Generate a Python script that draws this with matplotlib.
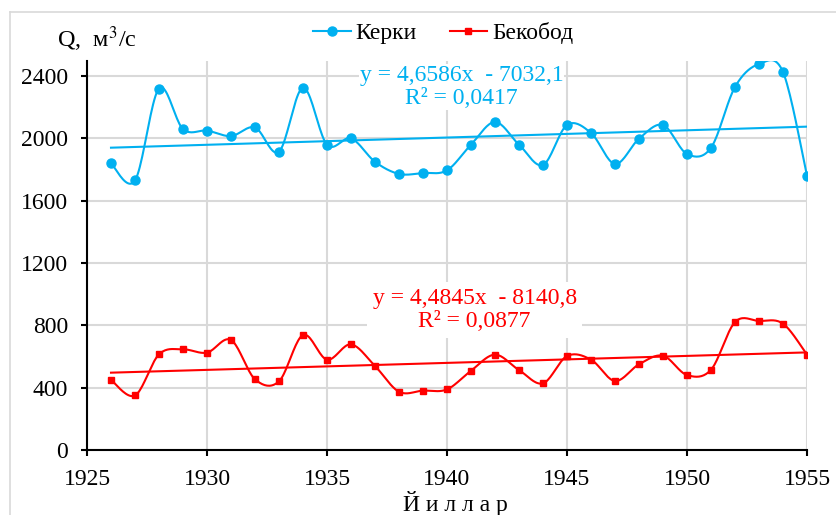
import numpy as np
import matplotlib
matplotlib.use("Agg")
import matplotlib.pyplot as plt
from matplotlib.lines import Line2D

years = list(range(1926, 1956))
kerki = [1840, 1730, 2320, 2060, 2050, 2015, 2070, 1915, 2325, 1960,
         2000, 1850, 1772, 1778, 1795, 1960, 2105, 1960, 1830, 2086,
         2035, 1836, 1998, 2086, 1900, 1940, 2330, 2477, 2426, 1760]
bekobod = [450, 350, 614, 646, 625, 706, 454, 441, 738, 580,
           678, 539, 374, 381, 389, 509, 612, 513, 428, 603,
           580, 443, 550, 605, 481, 515, 821, 828, 811, 612]
kerki_trend = (4.6586, -7032.1)
bekobod_trend = (4.4845, -8140.8)
kerki_eq = "y = 4,6586x  - 7032,1\nR² = 0,0417"
bekobod_eq = "y = 4,4845x  - 8140,8\nR² = 0,0877"
x_ticks = [1925, 1930, 1935, 1940, 1945, 1950, 1955]
y_ticks = [0, 400, 800, 1200, 1600, 2000, 2400]

BLUE = "#00B0F0"
RED = "#FF0000"
plt.rcParams['font.family'] = ['Liberation Serif', 'DejaVu Serif']
plt.rcParams['mathtext.fontset'] = 'stix'
FS = 17


def smooth(x, y, n=20):
    x = np.asarray(x, float)
    y = np.asarray(y, float)
    xs, ys = [], []
    m = len(x)
    for i in range(m - 1):
        p0 = (x[i - 1], y[i - 1]) if i > 0 else (x[i], y[i])
        p1 = (x[i], y[i])
        p2 = (x[i + 1], y[i + 1])
        p3 = (x[i + 2], y[i + 2]) if i + 2 < m else (x[i + 1], y[i + 1])
        c1 = (p1[0] + (p2[0] - p0[0]) / 6, p1[1] + (p2[1] - p0[1]) / 6)
        c2 = (p2[0] - (p3[0] - p1[0]) / 6, p2[1] - (p3[1] - p1[1]) / 6)
        t = np.linspace(0, 1, n, endpoint=(i == m - 2))
        bx = (1 - t) ** 3 * p1[0] + 3 * (1 - t) ** 2 * t * c1[0] + 3 * (1 - t) * t ** 2 * c2[0] + t ** 3 * p2[0]
        by = (1 - t) ** 3 * p1[1] + 3 * (1 - t) ** 2 * t * c1[1] + 3 * (1 - t) * t ** 2 * c2[1] + t ** 3 * p2[1]
        xs.append(bx)
        ys.append(by)
    return np.concatenate(xs), np.concatenate(ys)


fig = plt.figure(figsize=(8.37, 5.15), dpi=100)
ax = fig.add_axes([87 / 837, 65 / 515, 720 / 837, 389.5 / 515])

# outer chart border
fig.add_artist(Line2D([10 / 837, 1.0], [1 - 12 / 515, 1 - 12 / 515], color="#d9d9d9", lw=1.2, transform=fig.transFigure))
fig.add_artist(Line2D([10 / 837, 10 / 837], [0, 1 - 12 / 515], color="#d9d9d9", lw=1.2, transform=fig.transFigure))

yr = np.array(years, float)
for data, col, mk, ms, trend in [(kerki, BLUE, "o", 6.5, kerki_trend),
                                 (bekobod, RED, "s", 4.5, bekobod_trend)]:
    sx, sy = smooth(yr, data)
    ax.plot(sx, sy, color=col, lw=1.5, zorder=4)
    ax.plot(yr, data, ls="none", marker=mk, ms=ms, color=col, zorder=5)
    tx = np.array([years[0], years[-1]], float)
    ax.plot(tx, trend[0] * tx + trend[1], color=col, lw=1.5, zorder=3)

ax.text(1940.6, 2330, kerki_eq, color=BLUE, fontsize=FS, ha="center", va="center",
        linespacing=1.12, zorder=6, bbox=dict(facecolor="white", edgecolor="none", pad=0.5))
ax.text(1941.15, 898, bekobod_eq, color=RED, fontsize=FS, ha="center", va="center",
        linespacing=1.12, zorder=2.5, bbox=dict(facecolor="white", edgecolor="none", pad=4))

ax.set_xlim(1925, 1955)
ax.set_ylim(0, 2500)
ax.set_xticks(x_ticks)
ax.set_yticks(y_ticks)
ax.grid(True, color="#d9d9d9", lw=1.5, zorder=0)
ax.set_axisbelow(True)
for s in ["top", "right"]:
    ax.spines[s].set_visible(False)
for s in ["left", "bottom"]:
    ax.spines[s].set_color("black")
    ax.spines[s].set_linewidth(1.5)
ax.tick_params(axis="both", direction="out", length=4.5, width=1.5, labelsize=FS, color="black")
ax.tick_params(axis="x", pad=9)
ax.tick_params(axis="y", pad=9)

fig.text(97 / 837, 1 - 39 / 515, "Q,  м$^3$/с", fontsize=FS + 0.5, ha="center", va="center")
fig.text(455 / 837, 1 - 504 / 515, "Й и л л а р", fontsize=FS, ha="center", va="center")

handles = [Line2D([], [], color=BLUE, lw=1.5, marker="o", ms=6.5),
           Line2D([], [], color=RED, lw=1.5, marker="s", ms=4.5)]
fig.legend(handles, ["Керки", "Бекобод"], loc="center", bbox_to_anchor=(443 / 837, 1 - 33 / 515),
           ncol=2, frameon=False, fontsize=FS, handlelength=1.6, handletextpad=0.2,
           columnspacing=1.4, borderpad=0)

fig.savefig("out.png", dpi=100)
